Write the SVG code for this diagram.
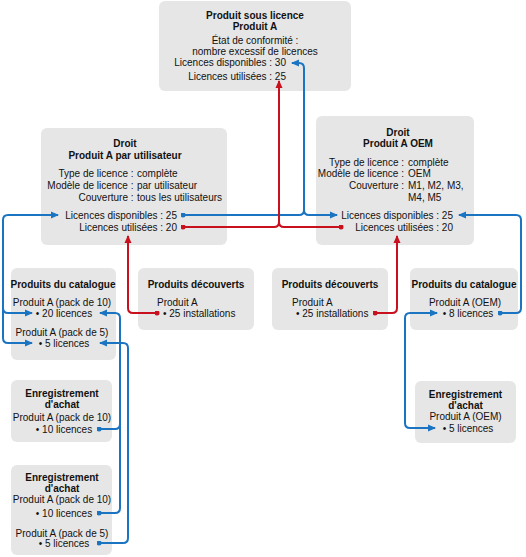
<svg xmlns="http://www.w3.org/2000/svg" width="526" height="557" viewBox="0 0 526 557">
<style>
.box{fill:#e6e6e6;}
text{font-family:"Liberation Sans",Arial,sans-serif;font-size:10px;fill:#111;}
.b{font-weight:bold;}
.m{text-anchor:middle;}
.e{text-anchor:end;}
.bl{fill:none;stroke:#1a74c2;stroke-width:2;}
.rd{fill:none;stroke:#c8101e;stroke-width:2;}
</style>
<defs>
<marker id="ab" viewBox="0 0 8 8" refX="7" refY="4" markerWidth="8" markerHeight="8" markerUnits="userSpaceOnUse" orient="auto-start-reverse"><path d="M0,0.5 L8,4 L0,7.5 z" fill="#1a74c2"/></marker>
<marker id="ar" viewBox="0 0 8 8" refX="7" refY="4" markerWidth="8" markerHeight="8" markerUnits="userSpaceOnUse" orient="auto-start-reverse"><path d="M0,0.5 L8,4 L0,7.5 z" fill="#c8101e"/></marker>
<marker id="db" viewBox="0 0 6 6" refX="3" refY="3" markerWidth="5" markerHeight="5" markerUnits="userSpaceOnUse"><circle cx="3" cy="3" r="3" fill="#1a74c2"/></marker>
<marker id="dr" viewBox="0 0 6 6" refX="3" refY="3" markerWidth="5" markerHeight="5" markerUnits="userSpaceOnUse"><circle cx="3" cy="3" r="3" fill="#c8101e"/></marker>
</defs>

<g id="licensed-product">
<rect class="box" x="159" y="1" width="192" height="90" rx="6"/>
<text class="b m" x="255" y="19">Produit sous licence</text>
<text class="b m" x="255" y="30">Produit A</text>
<text class="m" x="255" y="44">État de conformité :</text>
<text class="m" x="255" y="55">nombre excessif de licences</text>
<text class="e" x="286" y="66">Licences disponibles : 30</text>
<text class="e" x="286" y="79.5">Licences utilisées : 25</text>
</g>

<g id="entitlement-user">
<rect class="box" x="41" y="128" width="186" height="117" rx="6"/>
<text class="b m" x="125" y="146.5">Droit</text>
<text class="b m" x="125" y="158.5">Produit A par utilisateur</text>
<text class="e" x="133.5" y="176.5">Type de licence :</text>
<text x="137" y="176.5">complète</text>
<text class="e" x="133.5" y="188.5">Modèle de licence :</text>
<text x="137" y="188.5">par utilisateur</text>
<text class="e" x="133.5" y="200.5">Couverture :</text>
<text x="137" y="200.5">tous les utilisateurs</text>
<text class="e" x="177" y="218.5">Licences disponibles : 25</text>
<text class="e" x="177" y="230.5">Licences utilisées : 20</text>
</g>

<g id="entitlement-oem">
<rect class="box" x="316" y="116" width="158" height="129" rx="6"/>
<text class="b m" x="398" y="135.5">Droit</text>
<text class="b m" x="398" y="146.5">Produit A OEM</text>
<text class="e" x="404" y="165.5">Type de licence :</text>
<text x="408" y="165.5">complète</text>
<text class="e" x="404" y="176.5">Modèle de licence :</text>
<text x="408" y="176.5">OEM</text>
<text class="e" x="404" y="188.5">Couverture :</text>
<text x="408" y="188.5">M1, M2, M3,</text>
<text x="408" y="200.5">M4, M5</text>
<text class="e" x="453" y="218.5">Licences disponibles : 25</text>
<text class="e" x="453" y="230.5">Licences utilisées : 20</text>
</g>

<g id="catalog-left">
<rect class="box" x="11" y="268" width="105" height="92" rx="6"/>
<text class="b m" x="63" y="287.5">Produits du catalogue</text>
<text class="m" x="62" y="305.5">Produit A (pack de 10)</text>
<text class="m" x="64" y="316.5">• 20 licences</text>
<text class="m" x="62" y="335.5">Produit A (pack de 5)</text>
<text class="m" x="64" y="346.5">• 5 licences</text>
</g>

<g id="discovered-left">
<rect class="box" x="138" y="268" width="116" height="62" rx="6"/>
<text class="b m" x="196" y="287.5">Produits découverts</text>
<text x="157" y="305.5">Produit A</text>
<text x="163" y="316.5">• 25 installations</text>
</g>

<g id="discovered-right">
<rect class="box" x="272" y="268" width="116" height="62" rx="6"/>
<text class="b m" x="330" y="287.5">Produits découverts</text>
<text x="292" y="305.5">Produit A</text>
<text x="296" y="316.5">• 25 installations</text>
</g>

<g id="catalog-right">
<rect class="box" x="410" y="268" width="108" height="62" rx="6"/>
<text class="b m" x="464" y="287.5">Produits du catalogue</text>
<text class="m" x="465" y="305.5">Produit A (OEM)</text>
<text class="m" x="468" y="316.5">• 8 licences</text>
</g>

<g id="purchase-left-1">
<rect class="box" x="11" y="380" width="101" height="62" rx="6"/>
<text class="b m" x="62" y="396.5">Enregistrement</text>
<text class="b m" x="62" y="407.5">d'achat</text>
<text class="m" x="62" y="420.5">Produit A (pack de 10)</text>
<text class="m" x="64" y="432.5">• 10 licences</text>
</g>

<g id="purchase-left-2">
<rect class="box" x="11" y="465" width="101" height="90" rx="6"/>
<text class="b m" x="62" y="480.5">Enregistrement</text>
<text class="b m" x="62" y="491.5">d'achat</text>
<text class="m" x="62" y="502.5">Produit A (pack de 10)</text>
<text class="m" x="64" y="516.5">• 10 licences</text>
<text class="m" x="62" y="536.5">Produit A (pack de 5)</text>
<text class="m" x="64" y="546.5">• 5 licences</text>
</g>

<g id="purchase-right">
<rect class="box" x="415" y="381" width="101" height="62" rx="6"/>
<text class="b m" x="465.5" y="397.5">Enregistrement</text>
<text class="b m" x="465.5" y="408.5">d'achat</text>
<text class="m" x="465.5" y="419.5">Produit A (OEM)</text>
<text class="m" x="468" y="431.5">• 5 licences</text>
</g>

<g id="connectors">
<!-- blue to licensed product -->
<path class="bl" d="M183,215 H299 Q304,215 304,210 V68 Q304,63 299,63 H292" marker-start="url(#db)" marker-end="url(#ab)"/>
<path class="bl" d="M304,210 Q304,215 309,215 H337" marker-end="url(#ab)"/>
<!-- red to licensed product -->
<path class="rd" d="M183,227 H274 Q279,227 279,222 V81" marker-start="url(#dr)" marker-end="url(#ar)"/>
<path class="rd" d="M341,227 H284 Q279,227 279,222" marker-start="url(#dr)"/>
<!-- discovered to entitlements -->
<path class="rd" d="M157,313 H133 Q128,313 128,308 V236" marker-start="url(#dr)" marker-end="url(#ar)"/>
<path class="rd" d="M375,313 H392 Q397,313 397,308 V236" marker-start="url(#dr)" marker-end="url(#ar)"/>
<!-- catalog right to OEM entitlement -->
<path class="bl" d="M500,313 H516 Q521,313 521,308 V220 Q521,215 516,215 H459" marker-start="url(#db)" marker-end="url(#ab)"/>
<!-- purchase OEM to catalog OEM -->
<path class="bl" d="M437,313 H410 Q405,313 405,318 V423 Q405,428 410,428 H435" marker-start="url(#ab)" marker-end="url(#ab)"/>
<!-- catalog left to entitlement user -->
<path class="bl" d="M58,215 H8 Q3,215 3,220 V338 Q3,343 8,343 H32" marker-start="url(#ab)" marker-end="url(#ab)"/>
<path class="bl" d="M3,308 Q3,313 8,313 H32" marker-end="url(#ab)"/>
<!-- purchases to catalog left -->
<path class="bl" d="M99,513 H115 Q120,513 120,508 V318 Q120,313 115,313 H100" marker-start="url(#db)" marker-end="url(#ab)"/>
<path class="bl" d="M99,429 H115 Q120,429 120,424" marker-start="url(#db)"/>
<path class="bl" d="M99,543 H123 Q128,543 128,538 V348 Q128,343 123,343 H100" marker-start="url(#db)" marker-end="url(#ab)"/>
</g>
</svg>
